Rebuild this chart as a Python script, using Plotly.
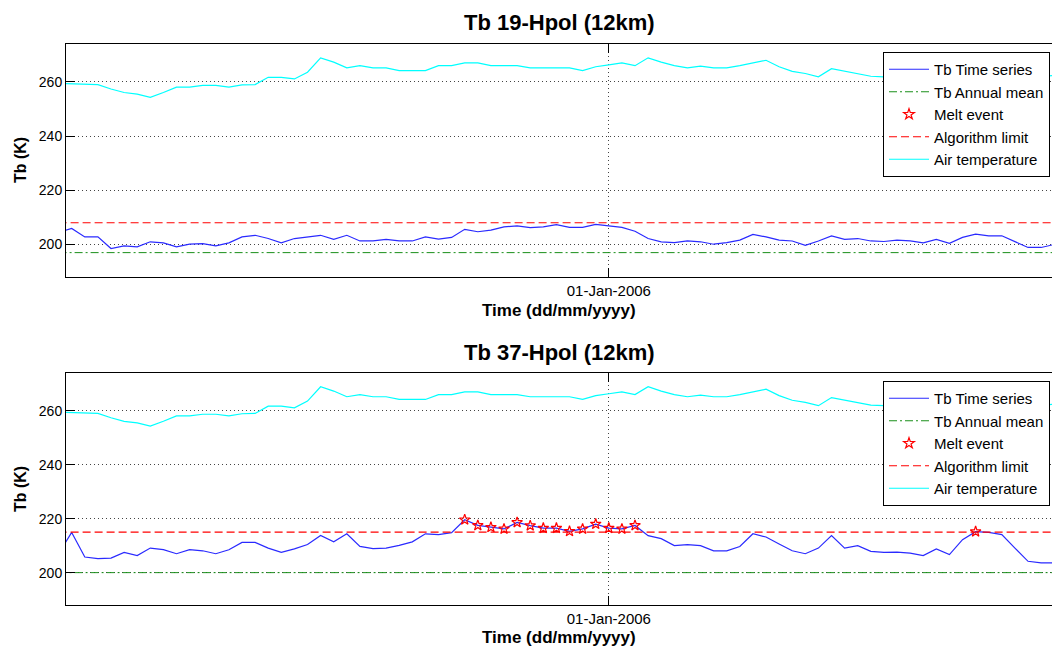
import pandas as pd
import plotly.graph_objects as go

# ---------------- data ----------------
dates = pd.date_range("2005-11-20", periods=77, freq="D")

tb19_h = [204.5, 205.9, 202.8, 202.8, 198.5, 199.5, 199.1, 201.0, 200.6, 199.1,
          200.1, 200.3, 199.5, 200.6, 202.8, 203.4, 202.2, 200.6, 202.2, 202.8,
          203.4, 201.9, 203.4, 201.3, 201.3, 201.9, 201.3, 201.3, 202.8, 202.0,
          202.6, 205.6, 204.7, 205.3, 206.5, 206.9, 206.2, 206.5, 207.3, 206.3,
          206.3, 207.4, 206.9, 206.3, 204.9, 202.2, 201.0, 200.7, 201.3, 201.0,
          200.1, 200.7, 201.6, 203.7, 202.8, 201.6, 201.3, 199.7, 201.3, 203.2,
          201.9, 202.2, 201.3, 201.1, 201.6, 201.3, 200.6, 201.9, 200.4, 202.6,
          203.8, 203.2, 203.2, 201.0, 198.9, 198.9, 200.0]

tb37_h = [207.0, 214.9, 205.8, 205.2, 205.4, 207.5, 206.3, 209.1, 208.5, 207.0,
          208.5, 208.1, 207.0, 208.5, 211.2, 211.2, 209.1, 207.5, 208.8, 210.4,
          213.8, 211.4, 214.4, 209.7, 208.9, 209.1, 210.1, 211.4, 214.4, 214.1,
          214.8, 219.6, 217.5, 216.8, 216.2, 218.6, 217.4, 216.5, 216.5, 215.3,
          216.2, 218.0, 216.5, 216.2, 217.5, 213.7, 212.6, 210.0, 210.4, 210.0,
          208.1, 208.1, 209.7, 214.4, 213.2, 210.6, 208.1, 207.0, 209.1, 213.7,
          209.1, 210.0, 207.9, 207.5, 207.6, 207.2, 206.3, 208.8, 206.7, 212.2,
          215.2, 214.9, 214.1, 209.1, 204.2, 203.6, 203.6]

air_temp = [259.5, 259.3, 259.0, 259.0, 257.4, 256.1, 255.5, 254.3, 256.1, 258.1,
            258.1, 258.7, 258.7, 258.1, 258.9, 259.0, 261.7, 261.7, 261.1, 263.6,
            268.9, 267.3, 265.2, 266.0, 265.2, 265.2, 264.2, 264.2, 264.2, 266.0,
            266.0, 267.0, 267.0, 266.0, 266.0, 266.0, 265.2, 265.2, 265.2, 265.2,
            264.2, 265.6, 266.3, 267.0, 266.0, 268.9, 267.3, 266.0, 265.2, 265.8,
            265.2, 265.2, 266.0, 267.0, 268.0, 265.6, 263.9, 263.1, 261.9, 264.9,
            263.9, 263.1, 262.1, 261.9, 261.9, 262.5, 261.8, 261.0, 261.5, 262.3,
            262.8, 262.0, 261.2, 260.8, 261.5, 262.0, 262.4]

# melt event positions (indices into the series) for Tb 37H
melt_idx_37 = [31, 32, 33, 34, 35, 36, 37, 38, 39, 40, 41, 42, 43, 44, 70]
melt_idx_19 = []

annual_mean = [197.0, 200.0]
algo_limit = [208.0, 215.0]

titles = ["Tb 19-Hpol (12km)", "Tb 37-Hpol (12km)"]
y_ticks = [200, 220, 240, 260]
x_tick_dates = ["2006-01-01"]
x_tick_text = ["01-Jan-2006"]

# ---------------- figure ----------------
W, H = 1052, 650
FONT = "Liberation Sans, Arial, sans-serif"

def px(x):
    return x / W

def py(y):
    return (H - y) / H

fig = go.Figure()

series = [tb19_h, tb37_h]
melts = [melt_idx_19, melt_idx_37]
for i in range(2):
    xa = "x" if i == 0 else "x2"
    ya = "y" if i == 0 else "y2"
    lg = "legend" if i == 0 else "legend2"
    tb = series[i]
    fig.add_trace(go.Scatter(x=dates, y=tb, mode="lines", name="Tb Time series",
                             line=dict(color="#2a2aff", width=1.2),
                             xaxis=xa, yaxis=ya, legend=lg))
    fig.add_trace(go.Scatter(x=[dates[0], dates[-1]], y=[annual_mean[i]] * 2,
                             mode="lines", name="Tb Annual mean",
                             line=dict(color="#1a8f1a", width=1, dash="8px,3px,2px,3px"),
                             xaxis=xa, yaxis=ya, legend=lg))
    mx = [dates[j] for j in melts[i]] if melts[i] else [None]
    my = [tb[j] for j in melts[i]] if melts[i] else [None]
    fig.add_trace(go.Scatter(x=mx, y=my, mode="markers", name="Melt event",
                             marker=dict(symbol="star-open", color="#ff0000", size=8,
                                         line=dict(width=1.2, color="#ff0000")),
                             xaxis=xa, yaxis=ya, legend=lg))
    fig.add_trace(go.Scatter(x=[dates[0], dates[-1]], y=[algo_limit[i]] * 2,
                             mode="lines", name="Algorithm limit",
                             line=dict(color="#ff0000", width=1.1, dash="8px,4px"),
                             xaxis=xa, yaxis=ya, legend=lg))
    fig.add_trace(go.Scatter(x=dates, y=air_temp, mode="lines", name="Air temperature",
                             line=dict(color="#00ffff", width=1.2),
                             xaxis=xa, yaxis=ya, legend=lg))

x0 = pd.Timestamp("2005-11-21") + pd.Timedelta(days=-0.435)
x1 = pd.Timestamp("2005-11-21") + pd.Timedelta(days=74.83)

axis_common = dict(showline=True, linecolor="#000000", linewidth=1,
                   ticks="inside", ticklen=9, tickcolor="#000000",
                   showgrid=True, gridcolor="#444444", griddash="1px,3px", gridwidth=1,
                   zeroline=False, tickfont=dict(family=FONT, size=14, color="#000"))

xax = dict(axis_common, range=[x0, x1], tickvals=x_tick_dates, ticktext=x_tick_text,
           mirror="ticks", tickfont=dict(family=FONT, size=15, color="#000"))
yax = dict(axis_common, range=[188, 274], tickvals=y_ticks, mirror=False)

legend_common = dict(xanchor="left", yanchor="top", itemwidth=40,
                     bordercolor="#000", borderwidth=1, bgcolor="white",
                     font=dict(family=FONT, size=15, color="#000"))

doms_y = [[py(277), py(44)], [py(605), py(373)]]
fig.update_layout(
    width=W, height=H,
    margin=dict(l=0, r=0, t=0, b=0),
    paper_bgcolor="white", plot_bgcolor="white",
    xaxis=dict(xax, domain=[px(66), 1], anchor="y"),
    yaxis=dict(yax, domain=doms_y[0], anchor="x"),
    xaxis2=dict(xax, domain=[px(66), 1], anchor="y2"),
    yaxis2=dict(yax, domain=doms_y[1], anchor="x2"),
    legend=dict(legend_common, x=px(883), y=py(52)),
    legend2=dict(legend_common, x=px(883), y=py(381)),
    font=dict(family=FONT, color="#000"),
)

ann = []
for i, (ty, xty, yty) in enumerate([(22, 310, 160), (352, 637, 489)]):
    ann.append(dict(text="<b>%s</b>" % titles[i], x=px(559), y=py(ty), xref="paper", yref="paper",
                    showarrow=False, xanchor="center", yanchor="middle",
                    font=dict(family=FONT, size=22, color="#000")))
    ann.append(dict(text="<b>Time (dd/mm/yyyy)</b>", x=px(559), y=py(xty), xref="paper", yref="paper",
                    showarrow=False, xanchor="center", yanchor="middle",
                    font=dict(family=FONT, size=17, color="#000")))
    ann.append(dict(text="<b>Tb (K)</b>", x=px(20), y=py(yty), xref="paper", yref="paper",
                    showarrow=False, xanchor="center", yanchor="middle", textangle=-90,
                    font=dict(family=FONT, size=16, color="#000")))
fig.update_layout(annotations=ann)

fig.write_html("out.html", config={"displayModeBar": False},
               post_script="document.body.style.margin='0';document.body.style.overflow='hidden';")
